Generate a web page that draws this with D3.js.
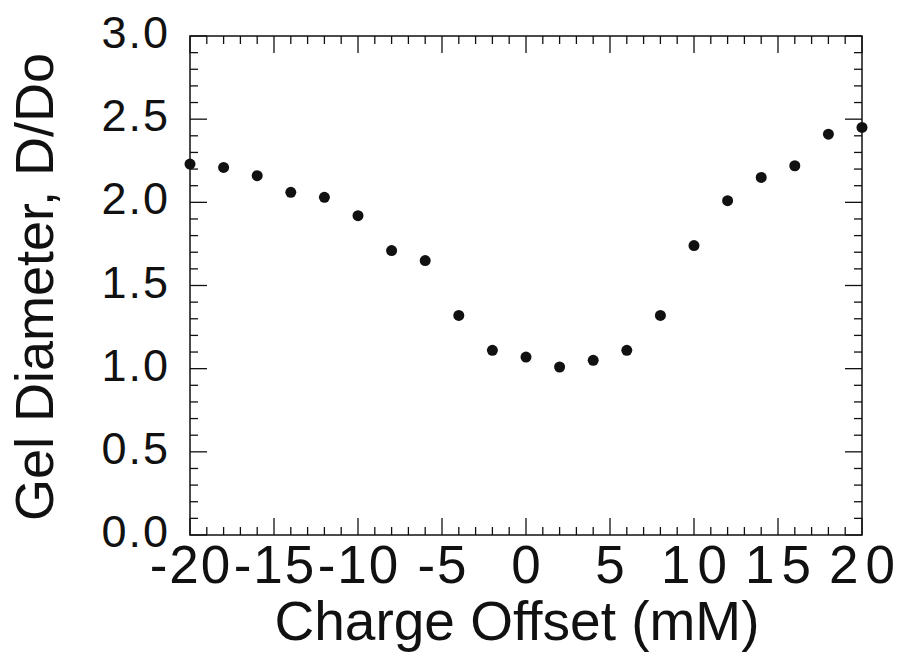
<!DOCTYPE html>
<html>
<head>
<meta charset="utf-8">
<script src="https://cdn.jsdelivr.net/npm/d3@7"></script>
<style>
  html, body { margin: 0; padding: 0; background: #fff; }
  svg text { font-family: "Liberation Sans", Arial, Helvetica, sans-serif; fill: #111; }
</style>
</head>
<body>
<svg id="chart" width="909" height="652"></svg>
<script>
// ---- data ----
const chargeOffset = [-20, -18, -16, -14, -12, -10, -8, -6, -4, -2, 0, 2, 4, 6, 8, 10, 12, 14, 16, 18, 20];
const gelDiameter  = [2.23, 2.21, 2.16, 2.06, 2.03, 1.92, 1.71, 1.65, 1.32, 1.11, 1.07, 1.01, 1.05, 1.11, 1.32, 1.74, 2.01, 2.15, 2.22, 2.41, 2.45];
const xTickValues  = [-20, -15, -10, -5, 0, 5, 10, 15, 20];
const xTickLabels  = ["-20", "-15", "-10", "-5", "0", "5", "10", "15", "20"];
const yTickValues  = [0, 0.5, 1.0, 1.5, 2.0, 2.5, 3.0];
const yTickLabels  = ["0.0", "0.5", "1.0", "1.5", "2.0", "2.5", "3.0"];
const xTitle = "Charge Offset (mM)";
const yTitle = "Gel Diameter, D/Do";

// ---- layout ----
const pLeft = 190, pRight = 862, pTop = 36, pBottom = 535;
const svg = d3.select("#chart");
const x = d3.scaleLinear().domain([-20, 20]).range([pLeft, pRight]);
const y = d3.scaleLinear().domain([0, 3]).range([pBottom, pTop]);

const majorLen = 17, minorLen = 8;
const xMinor = d3.range(-20, 20.001, 1);
const yMinor = d3.range(0, 3.0001, 0.1).map(v => Math.round(v * 10) / 10);
const isMajorX = v => Math.abs(v % 5) < 1e-6;
const isMajorY = v => Math.abs(v * 2 - Math.round(v * 2)) < 1e-6;

const g = svg.append("g");

// frame
g.append("rect")
  .attr("x", pLeft).attr("y", pTop)
  .attr("width", pRight - pLeft).attr("height", pBottom - pTop)
  .attr("fill", "none").attr("stroke", "#111").attr("stroke-width", 1.5);

// ticks on all four sides (inward)
const tickG = g.append("g").attr("stroke", "#111").attr("stroke-width", 1.3);
xMinor.forEach(v => {
  const len = isMajorX(v) ? majorLen : minorLen;
  tickG.append("line").attr("x1", x(v)).attr("x2", x(v)).attr("y1", pBottom).attr("y2", pBottom - len);
  tickG.append("line").attr("x1", x(v)).attr("x2", x(v)).attr("y1", pTop).attr("y2", pTop + len);
});
yMinor.forEach(v => {
  const len = isMajorY(v) ? majorLen : minorLen;
  tickG.append("line").attr("x1", pLeft).attr("x2", pLeft + len).attr("y1", y(v)).attr("y2", y(v));
  tickG.append("line").attr("x1", pRight).attr("x2", pRight - len).attr("y1", y(v)).attr("y2", y(v));
});

// x tick labels (positive two-digit labels are spaced out in the reference)
const xSpacing = d => (d >= 10 ? 7 : (d < 0 ? 2 : 0));
g.append("g").selectAll("text")
  .data(xTickValues)
  .join("text")
  .attr("x", d => x(d))
  .attr("dx", d => xSpacing(d) / 2)
  .attr("y", 583)
  .attr("text-anchor", "middle")
  .attr("font-size", 53)
  .attr("letter-spacing", d => xSpacing(d))
  .text((d, i) => xTickLabels[i]);

// y tick labels
g.append("g").selectAll("text")
  .data(yTickValues)
  .join("text")
  .attr("x", 170)
  .attr("y", d => y(d) + 12)
  .attr("text-anchor", "end")
  .attr("font-size", 45)
  .attr("letter-spacing", 2)
  .text((d, i) => yTickLabels[i]);

// axis titles
g.append("text")
  .attr("x", 517).attr("y", 640)
  .attr("text-anchor", "middle")
  .attr("font-size", 55)
  .text(xTitle);

g.append("text")
  .attr("transform", "translate(53,287) rotate(-90)")
  .attr("text-anchor", "middle")
  .attr("font-size", 54)
  .text(yTitle);

// points
g.append("g").selectAll("circle")
  .data(chargeOffset.map((c, i) => [c, gelDiameter[i]]))
  .join("circle")
  .attr("cx", d => x(d[0]))
  .attr("cy", d => y(d[1]))
  .attr("r", 5.5)
  .attr("fill", "#111");
</script>
</body>
</html>
